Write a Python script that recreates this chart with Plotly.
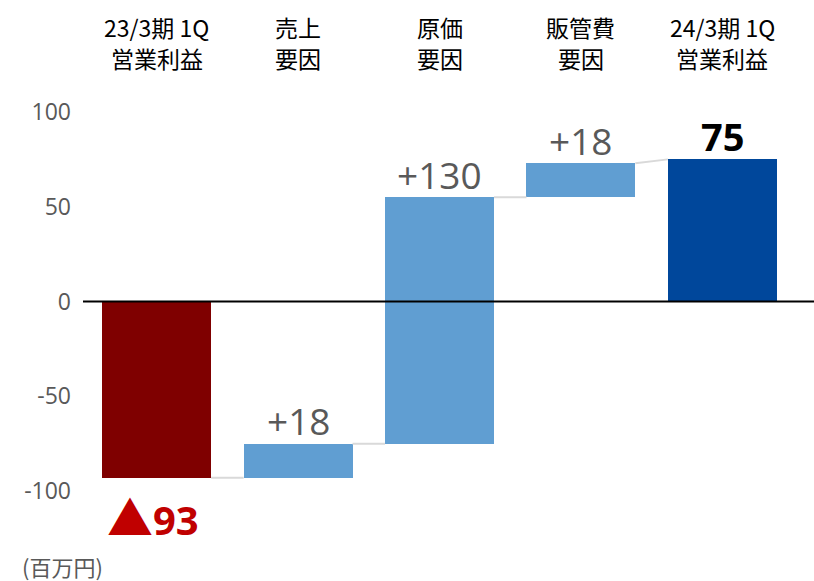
import plotly.graph_objects as go

# ---------------- data ----------------
cat_line1 = ["23/3期 1Q", "売上", "原価", "販管費", "24/3期 1Q"]
cat_line2 = ["営業利益", "要因", "要因", "要因", "営業利益"]
values = [-93, 18, 130, 18, 75]          # start total, deltas, end total
kinds = ["total", "delta", "delta", "delta", "total"]
value_labels = ["▲93", "+18", "+130", "+18", "75"]
tick_vals = [-100, -50, 0, 50, 100]
tick_text = ["-100", "-50", "0", "50", "100"]
unit_label = "(百万円)"

# ---------------- styling ----------------
bar_colors = ["#7F0000", "#609ED2", "#609ED2", "#609ED2", "#00479B"]
label_colors = ["#C00000", "#595959", "#595959", "#595959", "#000000"]
label_bold = [True, False, False, False, True]
BAR_W = 0.77
CJK = "Noto Sans CJK JP"
LAT = "Open Sans"

# compute bases / tops from data
bases, tops, level_in, level_out = [], [], [], []
run = 0
for v, k in zip(values, kinds):
    if k == "total":
        bases.append(0)
        tops.append(v)
        level_in.append(v)
        run = v
    else:
        bases.append(run)
        level_in.append(run)
        run = run + v
        tops.append(run)
    level_out.append(run)

x = list(range(len(values)))
heights = [t - b for t, b in zip(tops, bases)]

fig = go.Figure()
fig.add_trace(go.Bar(
    x=x, y=heights, base=bases, width=BAR_W,
    marker=dict(color=bar_colors, line=dict(width=0)),
    hoverinfo="skip", showlegend=False,
))

# connectors
for i in range(len(values) - 1):
    fig.add_trace(go.Scatter(
        x=[i + BAR_W / 2, i + 1 - BAR_W / 2],
        y=[level_out[i], level_in[i + 1]],
        mode="lines", line=dict(color="#D9D9D9", width=2),
        hoverinfo="skip", showlegend=False,
    ))


def fmt_label(lab, bold):
    if lab.startswith("▲"):
        txt = ("<span style='font-size:46px;font-family:\"Noto Sans CJK JP\"'>▲</span>"
               + lab[1:])
    else:
        txt = lab
    return f"<b>{txt}</b>" if bold else txt


annotations = []
# value labels
for i, (lab, col, bold) in enumerate(zip(value_labels, label_colors, label_bold)):
    hi = max(bases[i], tops[i])
    lo = min(bases[i], tops[i])
    if values[i] < 0 and kinds[i] == "total":
        annotations.append(dict(
            x=i, y=lo, xref="x", yref="y", text=fmt_label(lab, bold),
            showarrow=False, yanchor="middle", yshift=-37, xshift=-4,
            font=dict(family=LAT, size=40, color=col),
        ))
    else:
        annotations.append(dict(
            x=i, y=hi, xref="x", yref="y", text=fmt_label(lab, bold),
            showarrow=False, yanchor="middle", yshift=23,
            font=dict(family=LAT, size=38 if bold else 37, color=col),
        ))

# category labels at top (two separate lines)
for i, (l1, l2) in enumerate(zip(cat_line1, cat_line2)):
    for txt, py in ((l1, 27), (l2, 58)):
        annotations.append(dict(x=i, y=1, xref="x", yref="paper", text=txt,
                                showarrow=False, yanchor="middle", borderpad=0,
                                yshift=112 - py,
                                font=dict(family=CJK, size=23, color="#000000")))

annotations.append(dict(x=0, y=0, xref="paper", yref="paper", text=unit_label,
                        showarrow=False, xanchor="left", yanchor="middle",
                        xshift=22 - 86 - 2, yshift=-(566 - 491),
                        font=dict(family=CJK, size=22, color="#595959")))

fig.update_layout(
    width=814, height=581,
    margin=dict(l=86, r=21, t=112, b=90),
    paper_bgcolor="white", plot_bgcolor="white",
    bargap=0,
    xaxis=dict(range=[-0.5, 4.5], showticklabels=False, showgrid=False,
               zeroline=False, showline=False, ticks=""),
    yaxis=dict(range=[-100, 100], tickvals=tick_vals, ticktext=tick_text,
               showgrid=False, zeroline=False, showline=False, ticks="",
               ticklabelstandoff=14,
               tickfont=dict(family=LAT, size=23, color="#595959")),
    annotations=annotations,
    shapes=[dict(type="line", xref="paper", yref="y",
                 x0=(83 - 86) / 707, x1=(814 - 86) / 707, y0=0, y1=0,
                 line=dict(color="#000000", width=2), layer="above")],
)

fig.write_html("out.html",
               config={"displayModeBar": False, "staticPlot": True},
               post_script="document.body.style.margin='0';document.body.style.overflow='hidden';")
